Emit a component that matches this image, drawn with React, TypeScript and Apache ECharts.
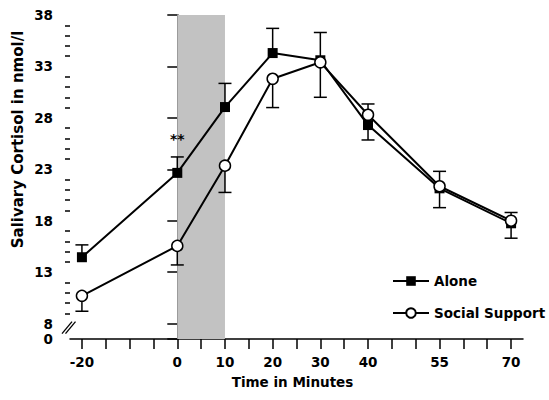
import React, { useEffect, useRef } from 'react';
import * as echarts from 'echarts';

// ---- data ----
const minutes = [-20, 0, 10, 20, 30, 40, 55, 70];
const aloneMean = [14.45, 22.65, 29.05, 34.3, 33.6, 27.3, 21.15, 17.75];
const aloneSE = [1.2, 1.55, 2.3, 2.4, 2.7, 1.45, 1.88, 1.45];
const aloneDir = [1, 1, 1, 1, 1, -1, -1, -1];
const supportMean = [10.7, 15.55, 23.35, 31.8, 33.4, 28.3, 21.35, 18.0];
const supportSE = [1.5, 1.85, 2.6, 2.8, 3.4, 1.05, 1.45, 0.8];
const supportDir = [-1, -1, -1, -1, -1, 1, 1, 1];

const yMajorTicks = [8, 13, 18, 23, 28, 33, 38];
const yMinorTicks = [9, 10, 11, 12, 14, 15, 16, 17, 19, 20, 21, 22, 24, 25, 26, 27, 29, 30, 31, 32, 34, 35, 36, 37];
const yZeroPosition = 6.5; // where the broken axis shows "0"
const yBreakPosition = 7.6;
const xTicks = [-20, -15, -10, -5, 0, 5, 10, 15, 20, 25, 30, 35, 40, 45, 50, 55, 60, 65, 70];
const xLabels = [-20, 0, 10, 20, 30, 40, 55, 70];
const stressWindow = [0, 10];
const significanceMark = { x: 0, y: 25.9, text: '**' };

const FONT = 'DejaVu Sans';

export default function App() {
  const ref = useRef<HTMLDivElement>(null);

  useEffect(() => {
    if (!ref.current) return;
    const chart = echarts.init(ref.current, null, { renderer: 'svg' });

    const errRender = (params: any, api: any) => {
      const x = api.value(0);
      const y = api.value(1);
      const e = api.value(2);
      const d = api.value(3);
      const p0 = api.coord([x, y]);
      const p1 = api.coord([x, y + d * e]);
      const hw = 6.5;
      const style = { stroke: '#000', lineWidth: 1.5 };
      return {
        type: 'group',
        children: [
          { type: 'line', shape: { x1: p0[0], y1: p0[1], x2: p1[0], y2: p1[1] }, style },
          { type: 'line', shape: { x1: p1[0] - hw, y1: p1[1], x2: p1[0] + hw, y2: p1[1] }, style },
        ],
      };
    };

    const breakRender = (params: any, api: any) => {
      const p = api.coord([api.value(0), api.value(1)]);
      const cx = p[0];
      const cy = p[1];
      const ls = { stroke: '#000', lineWidth: 1.3 };
      return {
        type: 'group',
        children: [
          {
            type: 'polygon',
            shape: { points: [[cx - 6, cy + 6], [cx - 2, cy + 6], [cx + 4, cy - 6], [cx, cy - 6]] },
            style: { fill: '#fff' },
          },
          { type: 'line', shape: { x1: cx - 8, y1: cy + 6, x2: cx + 2, y2: cy - 6 }, style: ls },
          { type: 'line', shape: { x1: cx - 4.5, y1: cy + 6, x2: cx + 5.5, y2: cy - 6 }, style: ls },
        ],
      };
    };

    const labelStyle = { fontFamily: FONT, fontWeight: 'bold' as const, fontSize: 13.5, color: '#000' };

    chart.setOption({
      animation: false,
      backgroundColor: '#fff',
      grid: { left: 70, right: 26, top: 15, bottom: 61, containLabel: false, outerBoundsMode: 'none' },
      legend: {
        orient: 'vertical',
        left: 387,
        top: 269,
        itemWidth: 36,
        itemHeight: 12,
        itemGap: 18,
        data: ['Alone', 'Social Support'],
        textStyle: { ...labelStyle, fontSize: 13.5 },
      },
      xAxis: {
        type: 'value',
        min: -22.5,
        max: 72.5,
        axisLine: { show: true, lineStyle: { color: '#000', width: 1.5 } },
        axisTick: { show: true, customValues: xTicks, length: 10, lineStyle: { color: '#000', width: 1.5 } },
        axisLabel: { show: true, customValues: xLabels, margin: 16, ...labelStyle },
        splitLine: { show: false },
      },
      yAxis: [
        {
          type: 'value',
          min: yZeroPosition,
          max: 38,
          axisLine: { show: true, lineStyle: { color: '#000', width: 1.5 } },
          axisTick: {
            show: true,
            customValues: [yZeroPosition, ...yMajorTicks],
            length: 10,
            lineStyle: { color: '#000', width: 1.5 },
          },
          axisLabel: {
            show: true,
            customValues: [yZeroPosition, ...yMajorTicks],
            formatter: (v: number) => (v === yZeroPosition ? '0' : String(v)),
            margin: 17,
            ...labelStyle,
          },
          splitLine: { show: false },
        },
        {
          type: 'value',
          min: yZeroPosition,
          max: 38,
          position: 'left',
          axisLine: { show: false },
          axisTick: { show: true, customValues: yMinorTicks, length: 5, lineStyle: { color: '#000', width: 1.5 } },
          axisLabel: { show: false },
          splitLine: { show: false },
        },
      ],
      graphic: [
        {
          type: 'text',
          x: 18,
          y: 139.5,
          rotation: Math.PI / 2,
          style: {
            text: 'Salivary Cortisol in nmol/l',
            fontFamily: FONT,
            fontWeight: 'bold',
            fontSize: 15,
            fill: '#000',
            textAlign: 'center',
            textVerticalAlign: 'middle',
          },
        },
        {
          type: 'text',
          x: 292.5,
          y: 381.7,
          style: {
            text: 'Time in Minutes',
            fontFamily: FONT,
            fontWeight: 'bold',
            fontSize: 13.5,
            fill: '#000',
            textAlign: 'center',
            textVerticalAlign: 'middle',
          },
        },
      ],
      series: [
        {
          name: 'stress',
          type: 'line',
          data: [],
          silent: true,
          markArea: {
            silent: true,
            itemStyle: { color: '#c2c2c2', opacity: 1 },
            data: [[{ xAxis: stressWindow[0] }, { xAxis: stressWindow[1] }]],
          },
          z: 0,
        },
        {
          name: 'axisBreak',
          type: 'custom',
          clip: false,
          silent: true,
          data: [[-22.5, yBreakPosition]],
          renderItem: breakRender,
          z: 5,
        },
        {
          name: 'aloneErr',
          type: 'custom',
          silent: true,
          data: minutes.map((m, i) => [m, aloneMean[i], aloneSE[i], aloneDir[i]]),
          renderItem: errRender,
          z: 1,
        },
        {
          name: 'supportErr',
          type: 'custom',
          silent: true,
          data: minutes.map((m, i) => [m, supportMean[i], supportSE[i], supportDir[i]]),
          renderItem: errRender,
          z: 1,
        },
        {
          name: 'Alone',
          type: 'line',
          data: minutes.map((m, i) => [m, aloneMean[i]]),
          symbol: 'rect',
          symbolSize: 10,
          itemStyle: { color: '#000' },
          lineStyle: { color: '#000', width: 2 },
          z: 2,
          markPoint: {
            silent: true,
            symbol: 'circle',
            symbolSize: 0,
            data: [
              {
                coord: [significanceMark.x, significanceMark.y],
                label: {
                  show: true,
                  position: 'inside',
                  formatter: significanceMark.text,
                  fontFamily: FONT,
                  fontWeight: 'bold',
                  fontSize: 14,
                  color: '#000',
                },
              },
            ],
          },
        },
        {
          name: 'Social Support',
          type: 'line',
          data: minutes.map((m, i) => [m, supportMean[i]]),
          symbol: 'circle',
          symbolSize: 11,
          itemStyle: { color: '#fff', borderColor: '#000', borderWidth: 1.5 },
          lineStyle: { color: '#000', width: 2 },
          z: 3,
        },
      ],
    });

    return () => chart.dispose();
  }, []);

  return <div ref={ref} style={{ position: 'fixed', left: 0, top: 0, width: 549, height: 400 }} />;
}
